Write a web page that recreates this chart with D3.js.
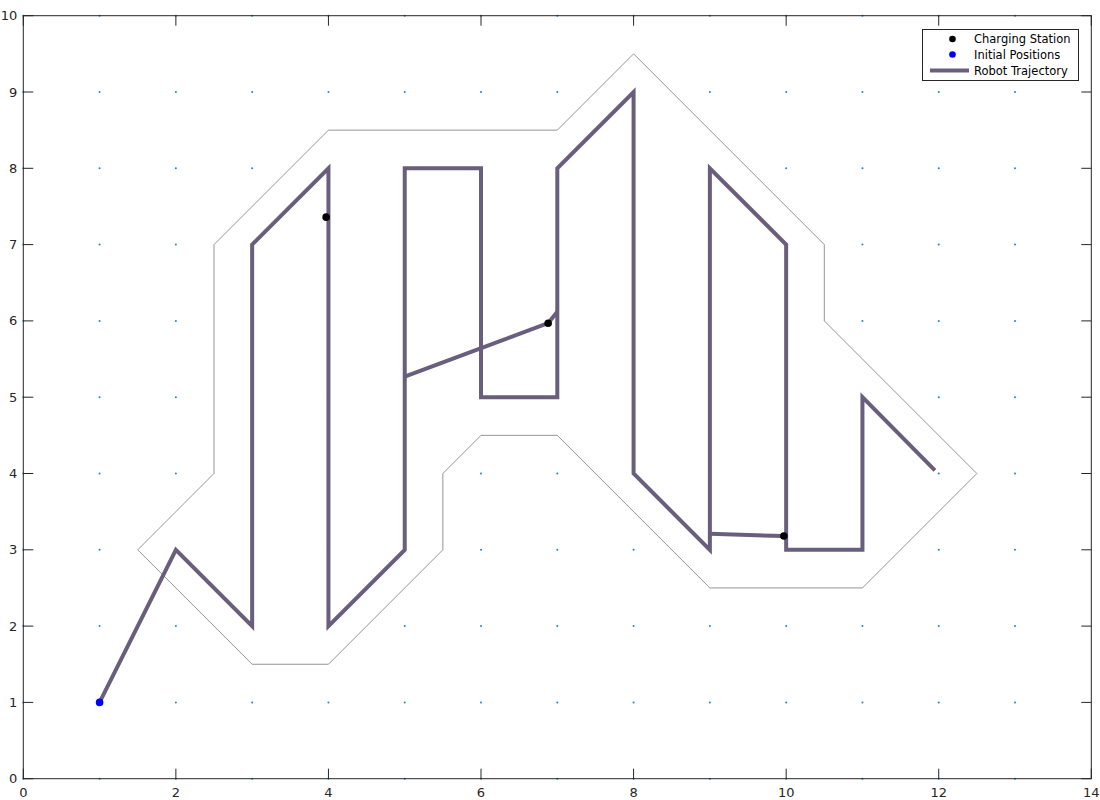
<!DOCTYPE html>
<html><head><meta charset="utf-8">
<script src="https://cdn.jsdelivr.net/npm/d3@7"></script>
<style>body{margin:0;background:#fff}svg{display:block;font-family:"DejaVu Sans",sans-serif}</style>
</head><body>
<script>
const xTicks = [0,2,4,6,8,10,12,14];
const yTicks = [0,1,2,3,4,5,6,7,8,9,10];
const gridX = [0,1,2,3,4,5,6,7,8,9,10,11,12,13];
const gridY = [0,1,2,3,4,5,6,7,8,9,10];
const boundary = [[1.5,3],[2.5,4],[2.5,7],[4,8.5],[7,8.5],[8,9.5],[10.5,7],[10.5,6],[12.5,4],[11,2.5],[9,2.5],[7,4.5],[6,4.5],[5.5,4],[5.5,3],[4,1.5],[3,1.5],[1.5,3]];
const trajectory = [[1,1],[2,3],[3,2],[3,7],[4,8],[4,2],[5,3],[5,8],[6,8],[6,5],[7,5],[7,8],[8,9],[8,4],[9,3],[9,8],[10,7],[10,3],[11,3],[11,5],[11.95,4.04]];
const detours = [
  [[5,5.27],[6.88,5.97],[7,6.12]],
  [[9,3.21],[9.97,3.18]]
];
const stations = [[3.97,7.36],[6.88,5.97],[9.97,3.18]];
const initialPositions = [[1,1]];
const legendLabels = ["Charging Station","Initial Positions","Robot Trajectory"];

const W=1100,H=800;
const L=23.3,T=15.7,R=1091.3,B=778.7;
const svg=d3.select("body").append("svg").attr("width",W).attr("height",H);
const x=d3.scaleLinear().domain([0,14]).range([L,R]);
const y=d3.scaleLinear().domain([0,10]).range([B,T]);
const line=d3.line().x(d=>x(d[0])).y(d=>y(d[1]));

const pts=[];gridX.forEach(a=>gridY.forEach(b=>pts.push([a,b])));
svg.append("g").selectAll("circle").data(pts).join("circle")
 .attr("cx",d=>x(d[0])).attr("cy",d=>y(d[1])).attr("r",1).attr("fill","#1f83d0");

svg.append("path").attr("d",line(boundary)).attr("fill","none").attr("stroke","#7a7a7a").attr("stroke-width",0.8);

const tc="#6a5e7d";
svg.append("path").attr("d",line(trajectory)).attr("fill","none").attr("stroke",tc).attr("stroke-width",4).attr("stroke-linejoin","miter").attr("stroke-miterlimit",3);
detours.forEach(dd=>svg.append("path").attr("d",line(dd)).attr("fill","none").attr("stroke",tc).attr("stroke-width",4).attr("stroke-linejoin","miter"));

svg.append("g").selectAll("circle").data(stations).join("circle")
 .attr("cx",d=>x(d[0])).attr("cy",d=>y(d[1])).attr("r",3.8).attr("fill","#000");
svg.append("g").selectAll("circle").data(initialPositions).join("circle")
 .attr("cx",d=>x(d[0])).attr("cy",d=>y(d[1])).attr("r",3.8).attr("fill","#0000ff");

const ax="#262626";
svg.append("rect").attr("x",L).attr("y",T).attr("width",R-L).attr("height",B-T).attr("fill","none").attr("stroke",ax).attr("stroke-width",1);
const tl=10;
const gx=svg.append("g");
xTicks.forEach(t=>{
  gx.append("line").attr("x1",x(t)).attr("x2",x(t)).attr("y1",B).attr("y2",B-tl).attr("stroke",ax);
  gx.append("line").attr("x1",x(t)).attr("x2",x(t)).attr("y1",T).attr("y2",T+tl).attr("stroke",ax);
  gx.append("text").attr("x",x(t)).attr("y",B+18).attr("text-anchor","middle").attr("font-size",13).attr("fill",ax).text(t);
});
yTicks.forEach(t=>{
  gx.append("line").attr("x1",L).attr("x2",L+tl).attr("y1",y(t)).attr("y2",y(t)).attr("stroke",ax);
  gx.append("line").attr("x1",R).attr("x2",R-tl).attr("y1",y(t)).attr("y2",y(t)).attr("stroke",ax);
  gx.append("text").attr("x",L-6).attr("y",y(t)+4.5).attr("text-anchor","end").attr("font-size",13).attr("fill",ax).text(t);
});

const lg=svg.append("g");
lg.append("rect").attr("x",922.5).attr("y",29.5).attr("width",156).attr("height",51).attr("fill","#fff").attr("stroke",ax).attr("stroke-width",1);
const rows=[39,54.5,70.5];
lg.append("circle").attr("cx",952.5).attr("cy",rows[0]).attr("r",3.3).attr("fill","#000");
lg.append("circle").attr("cx",952.5).attr("cy",rows[1]).attr("r",3.3).attr("fill","#0000ff");
lg.append("line").attr("x1",930).attr("x2",969).attr("y1",rows[2]).attr("y2",rows[2]).attr("stroke",tc).attr("stroke-width",4);
legendLabels.forEach((s,i)=>lg.append("text").attr("x",974).attr("y",rows[i]+4).attr("font-size",11.5).attr("fill","#000").text(s));
</script>
</body></html>
